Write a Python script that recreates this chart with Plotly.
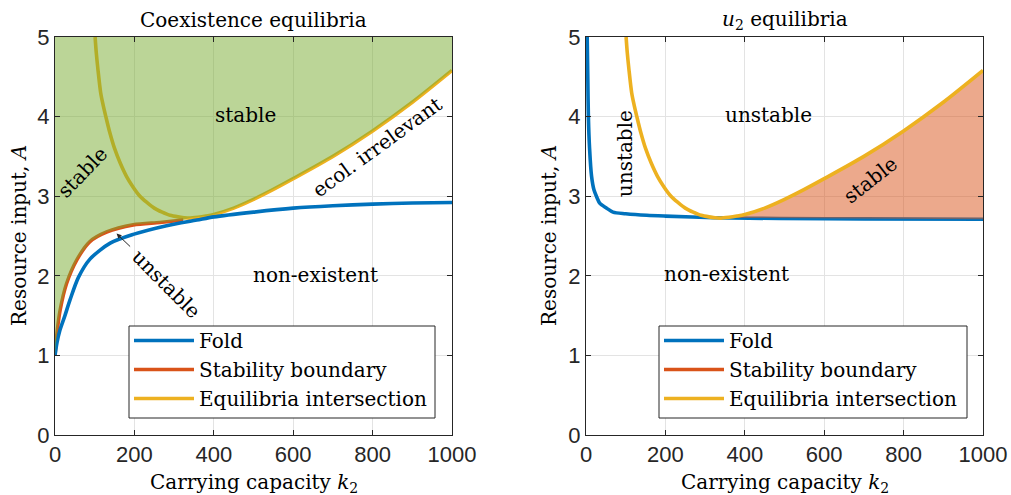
import plotly.graph_objects as go

# ---------------- data ----------------
# Fold curve, coexistence equilibria (left panel)
fold_left_k = [0, 5, 12, 25, 38, 59, 88, 139, 197, 281, 357, 400, 500, 600, 700, 800, 900, 1000]
fold_left_A = [1.0, 1.16, 1.31, 1.50, 1.70, 1.98, 2.21, 2.41, 2.52, 2.63, 2.70, 2.74, 2.80, 2.85, 2.88, 2.90, 2.915, 2.92]

# Stability boundary (left panel)
stab_k = [0, 5, 13, 29, 55, 88, 130, 197, 264, 323]
stab_A = [1.0, 1.28, 1.57, 1.90, 2.20, 2.43, 2.55, 2.64, 2.67, 2.70]

# Equilibria intersection (both panels)
inter_k = [101, 104, 108, 115, 121, 128, 138, 150, 164, 180, 196, 214, 232, 250, 270, 290, 310, 325, 338,
           360, 380, 400, 450, 500, 550, 600, 700, 800, 900, 1000]
inter_A = [5.0, 4.8, 4.6, 4.3, 4.15, 4.0, 3.8, 3.6, 3.42, 3.25, 3.12, 3.0, 2.92, 2.85, 2.8, 2.76, 2.74, 2.73, 2.725,
           2.735, 2.75, 2.77, 2.85, 2.96, 3.085, 3.22, 3.50, 3.82, 4.18, 4.58]

# Fold curve, u2 equilibria (right panel)
fold_right_k = [3, 4.5, 6, 9, 14, 20, 27, 35, 52, 68, 100, 153, 200, 321, 489, 700, 1000]
fold_right_A = [5.0, 4.5, 4.0, 3.6, 3.25, 3.08, 2.99, 2.91, 2.85, 2.80, 2.78, 2.76, 2.75, 2.73, 2.72, 2.715, 2.71]

x_ticks = [0, 200, 400, 600, 800, 1000]
y_ticks = [0, 1, 2, 3, 4, 5]

BLUE = "#0072BD"
RED = "#D95319"
YELLOW = "#EDB120"
GREEN_FILL = "rgba(119,172,48,0.5)"
ORANGE_FILL = "rgba(217,83,25,0.5)"
SERIF = "DejaVu Serif"
SANS = "Liberation Sans"
LW = 3.6
SHAPE = dict(shape="spline", smoothing=0.8)

fig = go.Figure()

# ---------- left panel ----------
fig.add_trace(go.Scatter(x=inter_k, y=inter_A, mode="lines", line=dict(color=YELLOW, width=LW, **SHAPE),
                         name="Equilibria intersection", legend="legend", legendrank=3,
                         xaxis="x", yaxis="y"))
fig.add_trace(go.Scatter(x=stab_k, y=stab_A, mode="lines", line=dict(color=RED, width=LW, **SHAPE),
                         name="Stability boundary", legend="legend", legendrank=2,
                         xaxis="x", yaxis="y"))
fig.add_trace(go.Scatter(x=fold_left_k, y=fold_left_A, mode="lines", line=dict(color=BLUE, width=LW, **SHAPE),
                         name="Fold", legend="legend", legendrank=1,
                         xaxis="x", yaxis="y"))

# green stable region: above stability boundary then above right branch of intersection
i_min = inter_k.index(338)
gx = stab_k + inter_k[i_min:] + [1000, 0]
gy = stab_A + inter_A[i_min:] + [5, 5]
fig.add_trace(go.Scatter(x=gx, y=gy, mode="lines", fill="toself", fillcolor=GREEN_FILL,
                         line=dict(width=0), hoverinfo="skip", showlegend=False,
                         xaxis="x", yaxis="y"))

# ---------- right panel ----------
fig.add_trace(go.Scatter(x=fold_right_k, y=fold_right_A, mode="lines", line=dict(color=BLUE, width=LW, **SHAPE),
                         name="Fold", legend="legend2", legendrank=1,
                         xaxis="x2", yaxis="y2"))
fig.add_trace(go.Scatter(x=[None], y=[None], mode="lines", line=dict(color=RED, width=LW),
                         name="Stability boundary", legend="legend2", legendrank=2,
                         xaxis="x2", yaxis="y2"))
# orange stable region between fold and intersection right branch
j_min = fold_right_k.index(321)
ox = inter_k[i_min:] + fold_right_k[j_min:][::-1]
oy = inter_A[i_min:] + fold_right_A[j_min:][::-1]
fig.add_trace(go.Scatter(x=ox, y=oy, mode="lines", fill="toself", fillcolor=ORANGE_FILL,
                         line=dict(width=0), hoverinfo="skip", showlegend=False,
                         xaxis="x2", yaxis="y2"))
fig.add_trace(go.Scatter(x=inter_k, y=inter_A, mode="lines", line=dict(color=YELLOW, width=LW, **SHAPE),
                         name="Equilibria intersection", legend="legend2", legendrank=3,
                         xaxis="x2", yaxis="y2"))

W, H = 1011, 495
def px_x(p):
    return p / W
def px_y(p):
    return (H - p) / H

axis_common = dict(
    showgrid=True, gridcolor="#E3E3E3", gridwidth=1,
    showline=True, linecolor="#262626", linewidth=1, mirror="ticks",
    ticks="inside", ticklen=5, tickcolor="#262626",
    tickfont=dict(family=SANS, size=22, color="#262626"),
    zeroline=False, fixedrange=True, automargin=False,
)

legend_common = dict(xanchor="left", yanchor="top", bgcolor="rgba(0,0,0,0)", borderwidth=0, itemwidth=60,
                     font=dict(family=SERIF, size=20, color="black"), traceorder="normal")

fig.update_layout(
    width=W, height=H,
    margin=dict(l=0, r=0, t=0, b=0),
    paper_bgcolor="white", plot_bgcolor="white",
    xaxis=dict(domain=[px_x(55), px_x(452)], range=[0, 1000], tickvals=x_ticks, anchor="y", **axis_common),
    yaxis=dict(domain=[px_y(435), px_y(37)], range=[0, 5], tickvals=y_ticks, anchor="x", **axis_common),
    xaxis2=dict(domain=[px_x(586), px_x(983)], range=[0, 1000], tickvals=x_ticks, anchor="y2", **axis_common),
    yaxis2=dict(domain=[px_y(435), px_y(37)], range=[0, 5], tickvals=y_ticks, anchor="x2", **axis_common),
    legend=dict(x=px_x(129), y=px_y(321), **legend_common),
    legend2=dict(x=px_x(659), y=px_y(321), **legend_common),
)

# legend frames (white box with dark border, behind the legend entries)
for x0, x1 in [(129, 435), (659, 967)]:
    fig.add_shape(type="rect", xref="paper", yref="paper",
                  x0=px_x(x0), x1=px_x(x1), y0=px_y(418), y1=px_y(326),
                  fillcolor="white", line=dict(color="#262626", width=1), layer="above")

def txt(text, x, y, xref, yref, angle=0, size=20):
    fig.add_annotation(text=text, x=x, y=y, xref=xref, yref=yref, showarrow=False,
                       textangle=angle, font=dict(family=SERIF, size=size, color="black"),
                       xanchor="center", yanchor="middle")

# titles
txt("Coexistence equilibria", px_x(253.5), px_y(20), "paper", "paper")
txt("<i>u</i><sub>2</sub> equilibria", px_x(784.5), px_y(20), "paper", "paper")
# axis titles
txt("Carrying capacity <i>k</i><sub>2</sub>", px_x(253.5), px_y(483), "paper", "paper")
txt("Carrying capacity <i>k</i><sub>2</sub>", px_x(784.5), px_y(483), "paper", "paper")
txt("Resource input, <i>A</i>", px_x(19), px_y(236), "paper", "paper", angle=-90)
txt("Resource input, <i>A</i>", px_x(549), px_y(236), "paper", "paper", angle=-90)

# left panel labels
txt("stable", 70, 3.3, "x", "y", angle=-46)
txt("stable", 479, 4.02, "x", "y")
txt("ecol. irrelevant", 811, 3.62, "x", "y", angle=-36)
txt("unstable", 281, 1.9, "x", "y", angle=45)
txt("non-existent", 655, 2.01, "x", "y")
fig.add_annotation(x=155, y=2.53, ax=193, ay=2.35, xref="x", yref="y", axref="x", ayref="y",
                   text="", showarrow=True, arrowhead=2, arrowsize=1, arrowwidth=1, arrowcolor="#262626")

# right panel labels
txt("unstable", 98, 3.54, "x2", "y2", angle=-90)
txt("unstable", 459, 4.02, "x2", "y2")
txt("stable", 716, 3.2, "x2", "y2", angle=-38)
txt("non-existent", 355, 2.02, "x2", "y2")

fig.write_html("out.html", config={"displayModeBar": False},
               post_script="document.body.style.margin='0';document.body.style.overflow='hidden';")
